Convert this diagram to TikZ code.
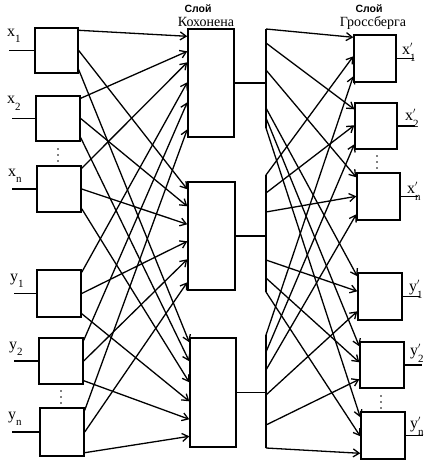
\documentclass[tikz,border=0pt]{standalone}
\usepackage{fontspec}
\setmainfont{Liberation Serif}
\newfontfamily\hsans{Liberation Sans}
\usetikzlibrary{arrows.meta,calc}
\newcommand\inlab[2]{#1\raisebox{-6pt}{\fontsize{11}{11}\selectfont #2}}
\newcommand\outlab[2]{#1\rlap{\raisebox{7pt}{\fontsize{11}{11}\selectfont$\scriptstyle\prime$}}\raisebox{-7pt}{\fontsize{11}{11}\selectfont #2}}
\begin{document}
\begin{tikzpicture}[x=1pt,y=-1pt,
  box/.style={draw,line width=1.4pt,inner sep=0pt,rectangle},
  conn/.style={line width=1.4pt},
  arr/.style={line width=1.3pt,-{Straight Barb[length=6pt,width=8pt]}},
  lab/.style={anchor=base west,inner sep=0pt,font=\fontsize{16}{16}\selectfont},
  head/.style={anchor=base,inner sep=0pt,font=\fontsize{10.5}{11}\selectfont\hsans\bfseries},
  headb/.style={anchor=base,inner sep=0pt,font=\fontsize{14}{14}\selectfont},
  dot/.style={fill=black}]
\useasboundingbox[fill=white] (0,0) rectangle (432,468);

% input boxes
\node[box,minimum width=43pt,minimum height=45pt] (x1) at (56.5,50.5) {};
\node[box,minimum width=44pt,minimum height=45pt] (x2) at (58,118.5) {};
\node[box,minimum width=44pt,minimum height=46pt] (xn) at (59,189) {};
\node[box,minimum width=44pt,minimum height=47pt] (y1) at (59,293.5) {};
\node[box,minimum width=44pt,minimum height=46pt] (y2) at (61,361) {};
\node[box,minimum width=44pt,minimum height=48pt] (yn) at (62,432) {};

% Kohonen boxes
\node[box,minimum width=46pt,minimum height=108pt] (K1) at (211,83) {};
\node[box,minimum width=47pt,minimum height=108pt] (K2) at (211.5,236) {};
\node[box,minimum width=46pt,minimum height=109pt] (K3) at (213,392.5) {};

% Grossberg boxes
\node[box,minimum width=42pt,minimum height=47pt] (x1p) at (375,58.5) {};
\node[box,minimum width=42pt,minimum height=46pt] (x2p) at (376,126) {};
\node[box,minimum width=43pt,minimum height=47pt] (xnp) at (378.5,196.5) {};
\node[box,minimum width=44pt,minimum height=47pt] (y1p) at (380,296.5) {};
\node[box,minimum width=44pt,minimum height=46pt] (y2p) at (382,365) {};
\node[box,minimum width=44pt,minimum height=47pt] (ynp) at (383,435.5) {};

% headings
\node[head] (h1) at (198,12.5) {Слой};
\node[headb] (h2) at (206,27) {Кохонена};
\node[head] (h3) at (369,12.5) {Слой};
\node[headb] (h4) at (373,27) {Гроссберга};

% input lines and labels
\foreach \n/\len in {x1/25,x2/23,xn/24,y1/22,y2/24,yn/27}{
  \coordinate (in\n) at ($(\n.west)+(-\len,0)$);
  \draw[conn] (in\n) -- (\n.west);
}
\node[lab] (lx1) at (7,37) {\inlab{x}{1}};
\node[lab] (lx2) at (7,104) {\inlab{x}{2}};
\node[lab] (lxn) at (8,176) {\inlab{x}{n}};
\node[lab] (ly1) at (10,281) {\inlab{y}{1}};
\node[lab] (ly2) at (9,349) {\inlab{y}{2}};
\node[lab] (lyn) at (8,419) {\inlab{y}{n}};

% output lines and labels
\foreach \n in {x1p,x2p,xnp,y1p,y2p,ynp}{
  \coordinate (out\n) at ($(\n.east)+(17,0)$);
  \draw[conn] (\n.east) -- (out\n);
}
\node[lab] (lx1p) at (402,55) {\outlab{x}{1}};
\node[lab] (lx2p) at (405,121) {\outlab{x}{2}};
\node[lab] (lxnp) at (407,193) {\outlab{x}{n}};
\node[lab] (ly1p) at (409,291) {\outlab{y}{1}};
\node[lab] (ly2p) at (410,355) {\outlab{y}{2}};
\node[lab] (lynp) at (410,428) {\outlab{y}{n}};

% input -> Kohonen
\foreach \s/\a/\b/\c in {x1/8/8/5, x2/23/25/24, xn/34/43/45, y1/54/60/64, y2/74/78/82, yn/101/101/99}{
  \draw[arr] ($(\s.north east)+(0,3)$) -- ($(K1.north west)+(0,\a)$);
  \draw[arr] (\s.east) -- ($(K2.north west)+(0,\b)$);
  \draw[arr] ($(\s.south east)+(0,-4)$) -- ($(K3.north west)+(0,\c)$);
}

% Kohonen outputs and bars
\coordinate (b1t) at (266,29);  \coordinate (b1b) at (266,128);
\coordinate (b2t) at (266,175); \coordinate (b2b) at (266,292);
\coordinate (b3t) at (266,335); \coordinate (b3b) at (266,448);
\draw[conn] (b1t) -- (b1b);
\draw[conn] (b2t) -- (b2b);
\draw[conn] (b3t) -- (b3b);
\draw[conn] (K1.east) -- (K1.east -| b1t);
\draw[conn] (K2.east) -- (K2.east -| b2t);
\draw[conn] (K3.east) -- (K3.east -| b3t);

% bars -> Grossberg
\foreach \t/\p/\q/\r/\e/\f/\g in {x1p/0/0/0/3/22/42, x2p/14/18/17/7/23/42, xnp/41/37/35/5/24/42, y1p/79/85/60/4/19/39, y2p/89/103/90/5/21/38, ynp/99/117/113/6/25/42}{
  \draw[arr] ($(b1t)+(0,\p)$) -- ($(\t.north west)+(0,\e)$);
  \draw[arr] ($(b2t)+(0,\q)$) -- ($(\t.north west)+(0,\f)$);
  \draw[arr] ($(b3t)+(0,\r)$) -- ($(\t.north west)+(0,\g)$);
}

% dots
\foreach \x/\y in {58/149, 61/391, 377/156, 381/396}{
  \fill[dot] (\x,\y) circle (0.9pt);
  \fill[dot] (\x,\y+6) circle (0.9pt);
  \fill[dot] (\x,\y+12) circle (0.9pt);
}
\end{tikzpicture}
\end{document}
